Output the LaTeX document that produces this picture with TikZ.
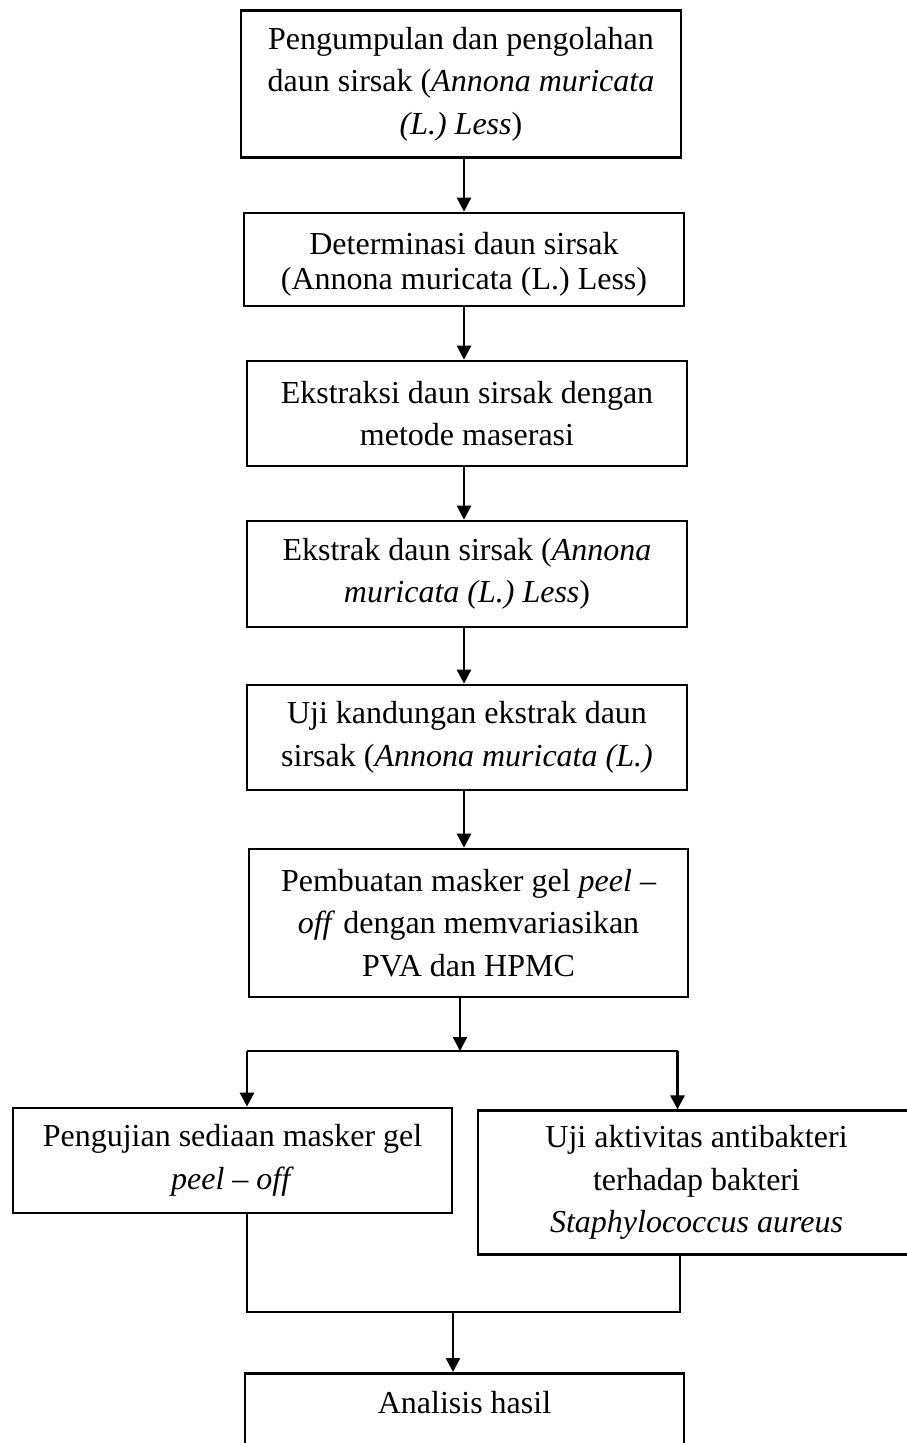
\documentclass[tikz,border=0pt]{standalone}
\usepackage{fontspec}
\setmainfont{Liberation Serif}
\usetikzlibrary{arrows.meta}
\tikzset{
    stepbox/.style={
        draw, rectangle, line width=1.35pt, inner sep=0pt, minimum width=220pt,
        align=center, font=\fontsize{16pt}{21.25pt}\selectfont
    },
    link/.style={line width=1.3pt},
    flow/.style={link, -{Triangle[length=7pt, width=7pt]}}
}

\begin{document}
\begin{tikzpicture}[x=0.5pt, y=-0.5pt]
    \useasboundingbox (0,0) rectangle (906,1443);
    \coordinate (spine) at (464,0);

    \node[stepbox, minimum height=73.5pt] (collect) at (461,84)
        {Pengumpulan dan pengolahan\\daun sirsak (\textit{Annona muricata}\\\textit{(L.) Less})};
    \node[stepbox, minimum height=46.5pt, font=\fontsize{16pt}{17.5pt}\selectfont] (determ) at (464,259.5)
        {\rule{0pt}{15.5pt}Determinasi daun sirsak\\(Annona muricata (L.) Less)};
    \node[stepbox, minimum height=52.5pt] (extract) at (467,413.5)
        {Ekstraksi daun sirsak dengan\\metode maserasi};
    \node[stepbox, minimum height=53pt] (extr) at (467,574)
        {Ekstrak daun sirsak (\textit{Annona}\\\textit{muricata (L.) Less})};
    \node[stepbox, minimum height=52.5pt] (test) at (467,737.5)
        {Uji kandungan ekstrak daun\\sirsak (\textit{Annona muricata (L.)}};
    \node[stepbox, minimum width=219.5pt, minimum height=74pt] (mask) at (468.5,923)
        {Pembuatan masker gel \textit{peel} --\\\textit{off} dengan memvariasikan\\PVA dan HPMC};
    \node[stepbox, minimum width=219.5pt, minimum height=52.5pt] (evalgel) at (232.5,1160.5)
        {Pengujian sediaan masker gel\\\textit{peel -- off}};
    \node[stepbox, minimum width=218.5pt, minimum height=71.75pt] (antibac) at (696.5,1182.5)
        {Uji aktivitas antibakteri\\terhadap bakteri\\\textit{Staphylococcus aureus}};
    \node[stepbox, minimum width=219.5pt, anchor=north, text height=20pt, text depth=40pt] (result) at (464.5,1372)
        {Analisis hasil};

    \coordinate (split) at (460,1051);
    \coordinate (splitL) at (247,1051);
    \coordinate (splitR) at (677.5,1051);
    \coordinate (joinL) at (247,1312);
    \coordinate (joinR) at (680,1312);
    \coordinate (join) at (453,1312);

    \draw[flow] (collect.south -| spine) -- (determ.north -| spine);
    \draw[flow] (determ.south -| spine) -- (extract.north -| spine);
    \draw[flow] (extract.south -| spine) -- (extr.north -| spine);
    \draw[flow] (extr.south -| spine) -- (test.north -| spine);
    \draw[flow] (test.south -| spine) -- (mask.north -| spine);

    % branch to the two tests
    \draw[flow] (mask.south -| split) -- (split);
    \draw[link] (splitL) -- (splitR);
    \draw[flow] (splitL) -- (evalgel.north -| splitL);
    \draw[flow] (splitR) -- (antibac.north -| splitR);

    % join into the analysis
    \draw[link] (evalgel.south -| joinL) -- (joinL) -- (joinR) -- (antibac.south -| joinR);
    \draw[flow] (join) -- (result.north -| join);
\end{tikzpicture}
\end{document}
